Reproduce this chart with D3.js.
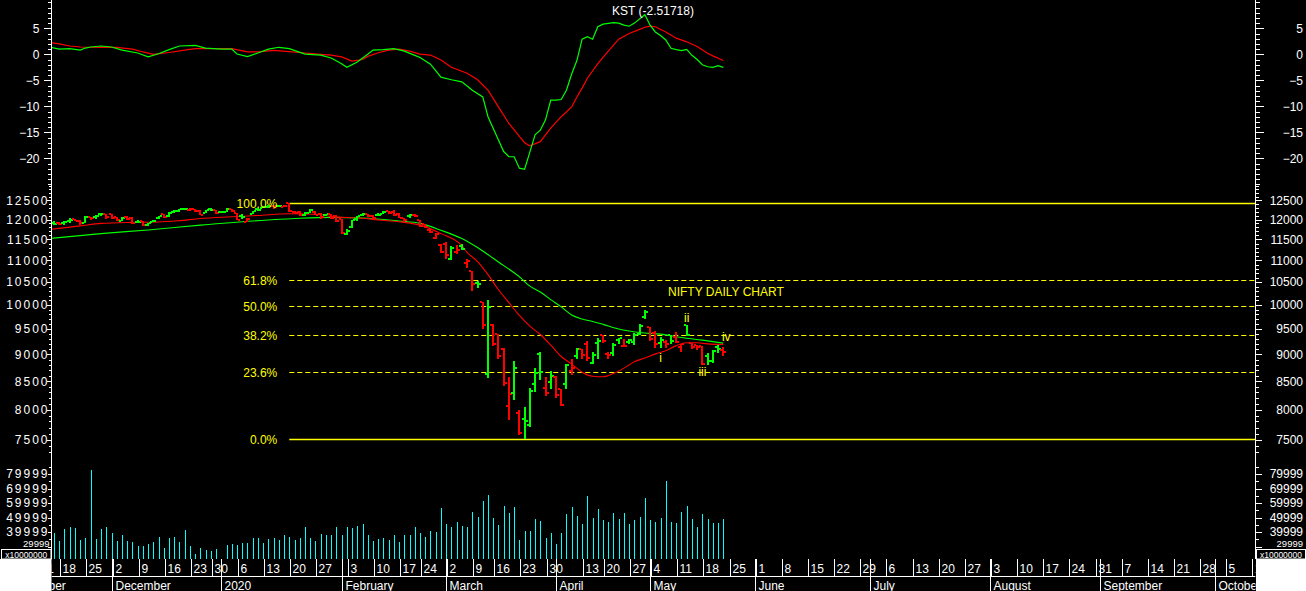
<!DOCTYPE html>
<html><head><meta charset="utf-8">
<script src="https://cdn.jsdelivr.net/npm/d3@7"></script>
<style>
html,body{margin:0;padding:0;background:#000;overflow:hidden}
svg{display:block}
</style></head><body>
<svg id="chart" width="1306" height="591"></svg>
<script>
// ================= DATA =================
const holidays = ["2019-11-12","2019-12-25","2020-02-21","2020-03-10","2020-04-02","2020-04-06","2020-04-10","2020-04-14","2020-05-01"];
const specialSessions = ["2020-02-01"];
const calendarStart = "2019-11-01", calendarEnd = "2020-10-16";

const barDates = [
"2019-11-15","2019-11-18","2019-11-19","2019-11-20","2019-11-21","2019-11-22","2019-11-25","2019-11-26","2019-11-27","2019-11-28","2019-11-29",
"2019-12-02","2019-12-03","2019-12-04","2019-12-05","2019-12-06","2019-12-09","2019-12-10","2019-12-11","2019-12-12","2019-12-13",
"2019-12-16","2019-12-17","2019-12-18","2019-12-19","2019-12-20","2019-12-23","2019-12-24","2019-12-26","2019-12-27","2019-12-30","2019-12-31",
"2020-01-01","2020-01-02","2020-01-03","2020-01-06","2020-01-07","2020-01-08","2020-01-09","2020-01-10","2020-01-13","2020-01-14","2020-01-15",
"2020-01-16","2020-01-17","2020-01-20","2020-01-21","2020-01-22","2020-01-23","2020-01-24","2020-01-27","2020-01-28","2020-01-29","2020-01-30","2020-01-31",
"2020-02-01","2020-02-03","2020-02-04","2020-02-05","2020-02-06","2020-02-07","2020-02-10","2020-02-11","2020-02-12","2020-02-13","2020-02-14",
"2020-02-17","2020-02-18","2020-02-19","2020-02-20","2020-02-24","2020-02-25","2020-02-26","2020-02-27","2020-02-28",
"2020-03-02","2020-03-03","2020-03-04","2020-03-05","2020-03-06","2020-03-09","2020-03-11","2020-03-12","2020-03-13",
"2020-03-16","2020-03-17","2020-03-18","2020-03-19","2020-03-20","2020-03-23","2020-03-24","2020-03-25","2020-03-26","2020-03-27","2020-03-30","2020-03-31",
"2020-04-01","2020-04-03","2020-04-07","2020-04-08","2020-04-09","2020-04-13","2020-04-15","2020-04-16","2020-04-17",
"2020-04-20","2020-04-21","2020-04-22","2020-04-23","2020-04-24","2020-04-27","2020-04-28","2020-04-29","2020-04-30",
"2020-05-04","2020-05-05","2020-05-06","2020-05-07","2020-05-08","2020-05-11","2020-05-12","2020-05-13","2020-05-14","2020-05-15",
"2020-05-18","2020-05-19","2020-05-20","2020-05-21","2020-05-22"];

const prevClose = 11872;
const open = [11904,11916,11911,11969,12004,11968,11922,12068,12068,12133,12147,
12137,12067,11970,12052,12048,11940,11950,11868,11945,12027,
12130,12082,12197,12223,12272,12236,12269,12212,12173,12275,12247,
12202,12198,12262,12170,12079,11940,12153,12272,12297,12334,12349,
12348,12329,12430,12196,12195,12107,12175,12197,12148,12114,12147,12100,
12003,11628,11798,12006,12121,12152,12102,12109,12151,12219,12191,
12131,12029,12091,12119,11979,11876,11739,11536,11354,
11388,11034,11202,11347,10942,10743,10486,10064,8624,
9588,9392,9110,8063,8287,7945,7849,7735,8451,9012,8385,8479,
8585,8356,8446,8688,8974,9103,9196,8831,9212,
9390,9016,9026,9283,9163,9232,9247,9404,9753,
9533,9430,9227,9234,9377,9348,9146,9584,9213,9182,
9158,8962,8873,9134,9085];
const high = [11973,11946,11957,12038,12023,11995,12085,12069,12114,12158,12150,
12137,12068,12055,12081,12058,11981,11953,11923,11990,12098,
12147,12182,12237,12268,12294,12288,12284,12238,12258,12287,12248,
12222,12289,12265,12179,12153,12045,12225,12311,12338,12374,12353,
12389,12386,12430,12230,12225,12190,12273,12217,12163,12153,12150,12104,
12018,11749,11982,12099,12161,12154,12104,12172,12231,12225,12247,
12160,12031,12134,12153,11984,11884,11783,11664,11384,
11433,11343,11354,11386,11036,10752,10532,10064,10111,
9602,9403,9127,8576,8883,8000,8037,8376,8749,9038,8576,8678,
8588,8356,8820,8914,9129,9112,9262,9053,9324,
9390,9044,9226,9324,9296,9305,9413,9599,9889,
9533,9451,9347,9277,9383,9439,9207,9585,9219,9191,
9158,9031,9076,9178,9149];
const low = [11867,11862,11868,11923,11956,11853,11920,11992,12018,12103,12010,
12005,11969,11953,11998,11888,11904,11832,11833,11931,12004,
12041,12070,12174,12191,12242,12217,12202,12120,12166,12229,12151,
12166,12195,12192,11975,12006,11929,12132,12213,12286,12308,12278,
12331,12315,12194,12134,12087,12090,12166,12107,12024,12097,12011,11945,
11633,11615,11789,11954,12081,12073,11990,12092,12144,12139,12091,
12033,11908,12042,12071,11817,11779,11662,11507,11175,
11036,11001,11152,11233,10827,10295,10360,9508,8555,
9159,8916,8407,7833,8173,7584,7511,7714,8304,8522,8244,8358,
8198,8056,8360,8616,8905,8914,8874,8822,8910,
9219,8910,8972,9209,9141,9206,9176,9389,9701,
9266,9117,9116,9116,9201,9219,9044,9365,9113,9076,
8807,8806,8843,9028,8969];
const close = [11895,11885,11940,11999,11968,11914,12073,12037,12101,12151,12056,
12048,11994,12043,12018,11922,11937,11857,11910,11972,12087,
12053,12165,12222,12260,12272,12263,12215,12127,12246,12256,12168,
12183,12282,12227,11993,12053,12025,12216,12257,12330,12362,12343,
12356,12352,12225,12170,12107,12180,12248,12119,12056,12130,12036,11962,
11662,11708,11980,12090,12138,12098,12032,12108,12201,12175,12113,
12046,11993,12126,12081,11829,11798,11679,11633,11202,
11133,11303,11251,11269,10989,10451,10458,9590,9955,
9197,8967,8469,8264,8745,7610,7801,8318,8641,8660,8281,8598,
8254,8084,8792,8749,9112,8994,8925,8993,9267,
9262,8981,9187,9314,9154,9282,9381,9553,9860,
9294,9206,9271,9199,9252,9239,9197,9384,9143,9137,
8823,8879,9067,9106,9039];
const volume = [39500,33800,42100,43400,42800,34500,35900,82800,35200,42100,43400,
39300,33800,37900,33800,33100,30300,30300,31700,33100,36600,
29000,35900,36600,33100,41400,30300,24800,29000,27600,26900,28300,
19000,31000,31700,31000,32400,32400,35900,35900,32400,35200,35900,
34500,37900,36600,34500,35900,43400,35900,33800,38600,37900,37900,43400,
37900,43400,42800,44100,45500,37900,33800,35200,35900,34500,37900,
33100,37900,37900,43400,39300,36600,40700,40000,56600,
45500,43400,46900,44100,43400,53800,50300,61400,65500,
49700,44800,57900,53100,57200,34500,40700,40700,49000,47600,35900,39300,
31700,39300,52400,57200,51000,45500,64800,49700,55900,
48300,46900,53100,49000,53100,45500,48300,50300,63400,
48300,46900,49700,75200,46900,46200,53800,57900,49000,43400,
52400,49000,46200,46200,49000];

// moving averages
const fastMaDates = ["2019-11-14","2019-11-22","2019-11-28","2019-12-06","2019-12-13","2019-12-19","2019-12-26","2020-01-03","2020-01-10","2020-01-20","2020-01-28","2020-01-30","2020-02-06","2020-02-11","2020-02-17","2020-02-24","2020-02-28","2020-03-05","2020-03-06","2020-03-11","2020-03-13","2020-03-17","2020-03-19","2020-03-23","2020-03-25","2020-03-27","2020-03-31","2020-04-03","2020-04-08","2020-04-13","2020-04-16","2020-04-20","2020-04-22","2020-04-24","2020-04-28","2020-04-30","2020-05-05","2020-05-07","2020-05-11","2020-05-13","2020-05-15","2020-05-19","2020-05-22"];
const fastMaValues = [11745,11839,11902,11928,11936,11971,12025,12069,12104,12150,12130,12075,12034,11988,11944,11857,11644,11348,11190,10970,10670,10330,10050,9780,9560,9390,9180,8960,8815,8665,8590,8580,8640,8740,8860,8930,9010,9070,9170,9225,9225,9205,9195];
const slowMaDates = ["2019-11-14","2019-11-28","2019-12-11","2019-12-26","2020-01-09","2020-01-22","2020-01-30","2020-02-06","2020-02-17","2020-02-24","2020-02-28","2020-03-05","2020-03-12","2020-03-17","2020-03-23","2020-03-25","2020-03-27","2020-03-31","2020-04-03","2020-04-08","2020-04-13","2020-04-16","2020-04-20","2020-04-23","2020-04-29","2020-05-06","2020-05-12","2020-05-18","2020-05-22"];
const slowMaValues = [11521,11644,11736,11857,11963,12034,12055,12040,11963,11902,11728,11521,11220,10960,10620,10410,10280,10115,9960,9790,9705,9655,9595,9500,9430,9397,9330,9278,9219];

// KST and its signal line
const kstDates = ["2019-11-14","2019-11-18","2019-11-20","2019-11-22","2019-11-25","2019-11-26","2019-11-28","2019-12-02","2019-12-04","2019-12-09","2019-12-11","2019-12-13","2019-12-17","2019-12-19","2019-12-24","2019-12-27","2020-01-01","2020-01-03","2020-01-06","2020-01-08","2020-01-10","2020-01-14","2020-01-16","2020-01-20","2020-01-23","2020-01-28","2020-01-30","2020-02-01","2020-02-03","2020-02-05","2020-02-07","2020-02-10","2020-02-12","2020-02-14","2020-02-18","2020-02-20","2020-02-24","2020-02-26","2020-02-28","2020-03-03","2020-03-05","2020-03-09","2020-03-12","2020-03-13","2020-03-17","2020-03-18","2020-03-19","2020-03-20","2020-03-23","2020-03-24","2020-03-25","2020-03-26","2020-03-27","2020-03-30","2020-03-31","2020-04-01","2020-04-03","2020-04-07","2020-04-08","2020-04-09","2020-04-13","2020-04-15","2020-04-16","2020-04-17","2020-04-20","2020-04-22","2020-04-23","2020-04-24","2020-04-27","2020-04-28","2020-04-30","2020-05-04","2020-05-05","2020-05-06","2020-05-07","2020-05-08","2020-05-11","2020-05-12","2020-05-13","2020-05-14","2020-05-15","2020-05-18","2020-05-19","2020-05-20","2020-05-21","2020-05-22"];
const kstValues = [1.4,1.0,1.1,0.8,1.2,1.4,1.6,1.4,0.8,0.25,-0.5,0.1,0.9,1.6,1.7,1.2,1.0,1.0,0.05,-0.45,0.25,1.0,1.35,1.1,0.05,-0.15,-0.7,-1.8,-2.5,-1.5,0.0,0.8,0.9,1.1,0.6,-0.2,-0.6,-1.9,-4.4,-4.9,-5.3,-6.9,-8.2,-12.0,-16.5,-18.7,-19.7,-19.7,-21.9,-22.1,-18.8,-15.5,-14.6,-12.6,-8.8,-8.8,-8.7,-6.9,-3.8,-1.2,2.9,3.4,2.9,5.3,5.8,6.1,6.0,5.6,5.4,6.0,7.6,5.6,4.3,3.6,2.75,1.15,0.9,0.7,0.95,-0.2,-1.0,-2.0,-2.4,-2.5,-2.2,-2.51718];
const signalDates = ["2019-11-14","2019-11-18","2019-11-20","2019-11-22","2019-11-28","2019-12-03","2019-12-06","2019-12-10","2019-12-12","2019-12-17","2019-12-20","2019-12-24","2019-12-30","2020-01-03","2020-01-08","2020-01-10","2020-01-15","2020-01-20","2020-01-23","2020-01-28","2020-01-30","2020-02-01","2020-02-04","2020-02-06","2020-02-07","2020-02-11","2020-02-13","2020-02-17","2020-02-19","2020-02-24","2020-02-26","2020-02-28","2020-03-03","2020-03-06","2020-03-11","2020-03-13","2020-03-17","2020-03-19","2020-03-23","2020-03-24","2020-03-25","2020-03-27","2020-03-31","2020-04-03","2020-04-08","2020-04-09","2020-04-13","2020-04-15","2020-04-17","2020-04-21","2020-04-23","2020-04-27","2020-04-29","2020-04-30","2020-05-04","2020-05-05","2020-05-07","2020-05-11","2020-05-13","2020-05-15","2020-05-19","2020-05-20","2020-05-22"];
const signalValues = [2.3,2.0,1.6,1.4,1.35,1.35,1.0,0.45,0.0,0.35,0.8,1.1,1.1,1.1,0.45,0.45,0.75,0.5,0.25,0.0,-0.15,-0.5,-1.3,-1.0,-0.4,0.3,0.8,1.0,0.6,0.05,-0.15,-1.1,-2.5,-3.65,-4.9,-6.9,-10.1,-13.3,-15.8,-17.0,-17.6,-16.8,-14.2,-12.0,-10.1,-8.2,-6.5,-4.6,-1.8,0.6,2.9,4.0,4.8,5.2,5.4,5.3,4.3,3.1,2.4,1.5,0.2,-0.3,-1.2];

// Fibonacci retracement
const fibHighDate = "2020-01-20", fibHigh = 12430, fibLow = 7511;
const fibLevels = [1.0, 0.618, 0.5, 0.382, 0.236, 0.0];
const fibLabels = ["100.0%","61.8%","50.0%","38.2%","23.6%","0.0%"];

// Elliott wave labels
const waveLabels = ["i","ii","iii","iv"];
const waveDates = ["2020-05-06","2020-05-13","2020-05-18","2020-05-22"];
const wavePrices = [8940, 9730, 8670, 9340];

// axis ticks
const kstTicks = [-20,-15,-10,-5,0,5];
const priceTicks = [7500,8000,8500,9000,9500,10000,10500,11000,11500,12000,12500];
const volumeTicks = [29999,39999,49999,59999,69999,79999];
const volumeUnit = "x10000000";
const chartTitle = "NIFTY DAILY CHART";
const kstTitle = "KST";

// ================= DRAWING =================
const W = 1306, H = 591;
const L = 51.5, R = 1255.5;
const font = '"Liberation Sans", Arial, Helvetica, sans-serif';
const svg = d3.select("#chart");
svg.append("rect").attr("width", W).attr("height", H).attr("fill", "#000");

const parse = d3.timeParse("%Y-%m-%d"), fmt = d3.timeFormat("%Y-%m-%d");
const calendar = d3.timeDay.range(parse(calendarStart), d3.timeDay.offset(parse(calendarEnd), 1))
  .map(fmt)
  .filter(s => { const g = parse(s).getDay(); return (g !== 0 && g !== 6 && !holidays.includes(s)) || specialSessions.includes(s); });
const pos = new Map(calendar.map((d, i) => [d, i]));
const x = d3.scaleLinear().domain([pos.get(barDates[0]), pos.get(barDates[barDates.length - 1])]).range([54, 723.3]);
const xd = d => x(pos.get(d));

// panels
const kstY = d3.scaleLinear().domain([0, 5]).range([54.3, 28.3]);
const priceY = d3.scaleLog().domain([fibHigh, fibLow]).range([203, 439.2]);
const volY = d3.scaleLinear().domain([29999, 79999]).range([546.5, 474]);
const panels = { kst: [0, 185], price: [185, 450], vol: [450, 559] };

const defs = svg.append("defs");
Object.entries(panels).forEach(([k, [t, b]]) => {
  defs.append("clipPath").attr("id", "clip-" + k).append("rect").attr("x", L).attr("y", t).attr("width", R - L).attr("height", b - t);
});
defs.append("clipPath").attr("id", "clip-xaxis").append("rect").attr("x", L).attr("y", 559).attr("width", R - L).attr("height", 32);

// ---- KST panel ----
const gK = svg.append("g").attr("clip-path", "url(#clip-kst)");
const kstLine = d3.line().x(d => xd(d[0])).y(d => kstY(d[1]));
gK.append("path").datum(d3.zip(signalDates, signalValues)).attr("d", kstLine)
  .attr("fill", "none").attr("stroke", "#ff0000").attr("stroke-width", 1.2);
gK.append("path").datum(d3.zip(kstDates, kstValues)).attr("d", kstLine)
  .attr("fill", "none").attr("stroke", "#00ff00").attr("stroke-width", 1.2);
svg.append("text").attr("x", 653).attr("y", 10.5).attr("dy", "0.35em").attr("text-anchor", "middle")
  .attr("fill", "#fff").attr("font-family", font).attr("font-size", 12)
  .text(`${kstTitle} (${kstValues[kstValues.length - 1]})`);

// ---- Price panel ----
const gP = svg.append("g").attr("clip-path", "url(#clip-price)");
const fibX0 = xd(fibHighDate);
fibLevels.forEach((lv, i) => {
  const v = fibLow + lv * (fibHigh - fibLow);
  const yy = Math.round(priceY(v)) + 0.5;
  const dashed = lv !== 0 && lv !== 1;
  gP.append("line").attr("x1", fibX0).attr("x2", R).attr("y1", yy).attr("y2", yy)
    .attr("stroke", "#ffff00").attr("stroke-width", dashed ? 1 : 1.4).attr("stroke-dasharray", dashed ? "5,3" : null);
  svg.append("text").attr("x", fibX0 - 12).attr("y", yy).attr("dy", "0.35em").attr("text-anchor", "end")
    .attr("fill", "#ffff00").attr("font-family", font).attr("font-size", 12).text(fibLabels[i]);
});
const maLine = d3.line().x(d => xd(d[0])).y(d => priceY(d[1])).curve(d3.curveMonotoneX);
gP.append("path").datum(d3.zip(slowMaDates, slowMaValues)).attr("d", maLine)
  .attr("fill", "none").attr("stroke", "#00ff00").attr("stroke-width", 1.1);
gP.append("path").datum(d3.zip(fastMaDates, fastMaValues)).attr("d", maLine)
  .attr("fill", "none").attr("stroke", "#ff0000").attr("stroke-width", 1.1);
const bars = barDates.map((d, i) => ({ d, o: open[i], h: high[i], l: low[i], c: close[i], up: close[i] >= (i ? close[i - 1] : prevClose) }));
const gB = gP.append("g").attr("shape-rendering", "crispEdges");
bars.forEach(b => {
  const cx = Math.round(xd(b.d));
  const col = b.up ? "#00ff00" : "#ff0000";
  const yh = priceY(b.h), yl = priceY(b.l);
  gB.append("rect").attr("x", cx - 1).attr("y", Math.round(yh)).attr("width", 2).attr("height", Math.max(2, Math.round(yl) - Math.round(yh))).attr("fill", col);
  gB.append("rect").attr("x", cx - 3).attr("y", Math.round(priceY(b.o)) - 1).attr("width", 2).attr("height", 2).attr("fill", col);
  gB.append("rect").attr("x", cx + 1).attr("y", Math.round(priceY(b.c)) - 1).attr("width", 2).attr("height", 2).attr("fill", col);
});
svg.append("text").attr("x", 668).attr("y", 292).attr("dy", "0.35em").attr("fill", "#ffff00")
  .attr("font-family", font).attr("font-size", 12).text(chartTitle);
waveLabels.forEach((t, i) => {
  svg.append("text").attr("x", xd(waveDates[i]) + (i === 3 ? 3 : 0)).attr("y", priceY(wavePrices[i])).attr("dy", "0.35em")
    .attr("text-anchor", "middle").attr("fill", "#ffff00").attr("font-family", font).attr("font-size", 12).text(t);
});

// ---- Volume panel ----
const gV = svg.append("g").attr("clip-path", "url(#clip-vol)").attr("shape-rendering", "crispEdges");
const volBase = panels.vol[1];
barDates.forEach((d, i) => {
  const top = Math.min(volBase, volY(volume[i]));
  gV.append("rect").attr("x", Math.round(xd(d))).attr("y", top).attr("width", 1).attr("height", volBase - top).attr("fill", "#00ffff");
});

// ---- Y axes ----
function styleAxis(sel) {
  sel.attr("color", "#fff").attr("font-family", font).attr("font-size", 12);
  sel.select(".domain").remove();
  sel.selectAll("line").attr("shape-rendering", "crispEdges");
}
function clipTicks(sel, t, b) {
  sel.selectAll(".tick").filter(function () {
    const m = /translate\([^,]+,([^)]+)\)/.exec(this.getAttribute("transform"));
    const yy = m ? +m[1] : 0; return yy < t || yy > b;
  }).remove();
}
function axisPair(scale, major, minor, fmtFn, opts) {
  const [t, b] = opts.range;
  const gl = svg.append("g").attr("transform", `translate(${L},0)`)
    .call(d3.axisLeft(scale).tickValues(major).tickSize(opts.lsize).tickPadding(opts.lpad).tickFormat(fmtFn)).call(styleAxis);
  if (opts.wide) gl.selectAll("text").attr("letter-spacing", 2).attr("x", opts.wideX);
  clipTicks(gl, t, b);
  const glm = svg.append("g").attr("transform", `translate(${L},0)`)
    .call(d3.axisLeft(scale).tickValues(minor).tickSize(opts.msize).tickFormat("")).call(styleAxis);
  clipTicks(glm, t, b);
  const gr = svg.append("g").attr("transform", `translate(${R},0)`)
    .call(d3.axisRight(scale).tickValues(major).tickSize(opts.rsize).tickFormat(fmtFn)).call(styleAxis);
  gr.selectAll("text").attr("x", 1303 - R).attr("text-anchor", "end");
  clipTicks(gr, t, b);
  const grm = svg.append("g").attr("transform", `translate(${R},0)`)
    .call(d3.axisRight(scale).tickValues(minor).tickSize(opts.msize).tickFormat("")).call(styleAxis);
  clipTicks(grm, t, b);
  return [gl, gr];
}
axisPair(kstY, kstTicks, d3.range(-25, 11).filter(v => !kstTicks.includes(v)), d3.format("d"),
  { range: panels.kst, lsize: 8, lpad: 4, rsize: 8, msize: 4 });
axisPair(priceY, priceTicks, d3.range(7400, 13000, 100).filter(v => !priceTicks.includes(v)), d3.format("d"),
  { range: [186, 450], lsize: 5, lpad: 1, rsize: 6, msize: 3, wide: true, wideX: -2 });
const [vl, vr] = axisPair(volY, volumeTicks, d3.range(25000, 100000, 5000).filter(v => v % 10000 !== 0), d3.format("d"),
  { range: [451, 556], lsize: 4, lpad: 1, rsize: 6, msize: 3, wide: true, wideX: -2 });
// the lowest volume label is squeezed in just above the unit box
[vl, vr].forEach(g => g.selectAll(".tick").filter(d => d === volumeTicks[0]).select("text")
  .attr("y", -3).attr("font-size", 9.5).attr("letter-spacing", null));

svg.append("line").attr("x1", L).attr("x2", L).attr("y1", 0).attr("y2", 559).attr("stroke", "#fff");
svg.append("line").attr("x1", R).attr("x2", R).attr("y1", 0).attr("y2", 559).attr("stroke", "#fff");

// ---- X axis ----
const gX = svg.append("g").attr("clip-path", "url(#clip-xaxis)");
gX.append("line").attr("x1", L).attr("x2", R).attr("y1", 576.5).attr("y2", 576.5).attr("stroke", "#fff");
calendar.forEach((s, i) => {
  const dt = parse(s);
  const xx = Math.round(x(i)) + 0.5;
  if (dt.getDay() === 1) {
    gX.append("line").attr("x1", xx + 1).attr("x2", xx + 1).attr("y1", 559).attr("y2", 576).attr("stroke", "#fff");
    gX.append("text").attr("x", xx + 3).attr("y", 572.5).attr("fill", "#fff").attr("font-family", font).attr("font-size", 12).text(dt.getDate());
  }
  if (i === 0 || parse(calendar[i - 1]).getMonth() !== dt.getMonth()) {
    gX.append("line").attr("x1", xx).attr("x2", xx).attr("y1", 559).attr("y2", 591).attr("stroke", "#fff");
    gX.append("text").attr("x", xx + 3).attr("y", 589.5).attr("fill", "#fff").attr("font-family", font).attr("font-size", 12)
      .text(dt.getMonth() === 0 ? dt.getFullYear() : d3.timeFormat("%B")(dt));
  }
});

// corners and unit boxes
svg.append("rect").attr("x", 0).attr("y", 559).attr("width", L).attr("height", 32).attr("fill", "#fff");
svg.append("rect").attr("x", R + 0.5).attr("y", 559).attr("width", W - R).attr("height", 32).attr("fill", "#fff");
[[1.5, 49.5], [1256.5, 49]].forEach(([bx, bw]) => {
  svg.append("rect").attr("x", bx).attr("y", 549.5).attr("width", bw).attr("height", 9.5).attr("fill", "#000").attr("stroke", "#fff");
  svg.append("text").attr("x", bx + bw / 2).attr("y", 557.5).attr("text-anchor", "middle").attr("fill", "#fff")
    .attr("font-family", font).attr("font-size", 8.5).text(volumeUnit);
});
</script>
</body></html>
